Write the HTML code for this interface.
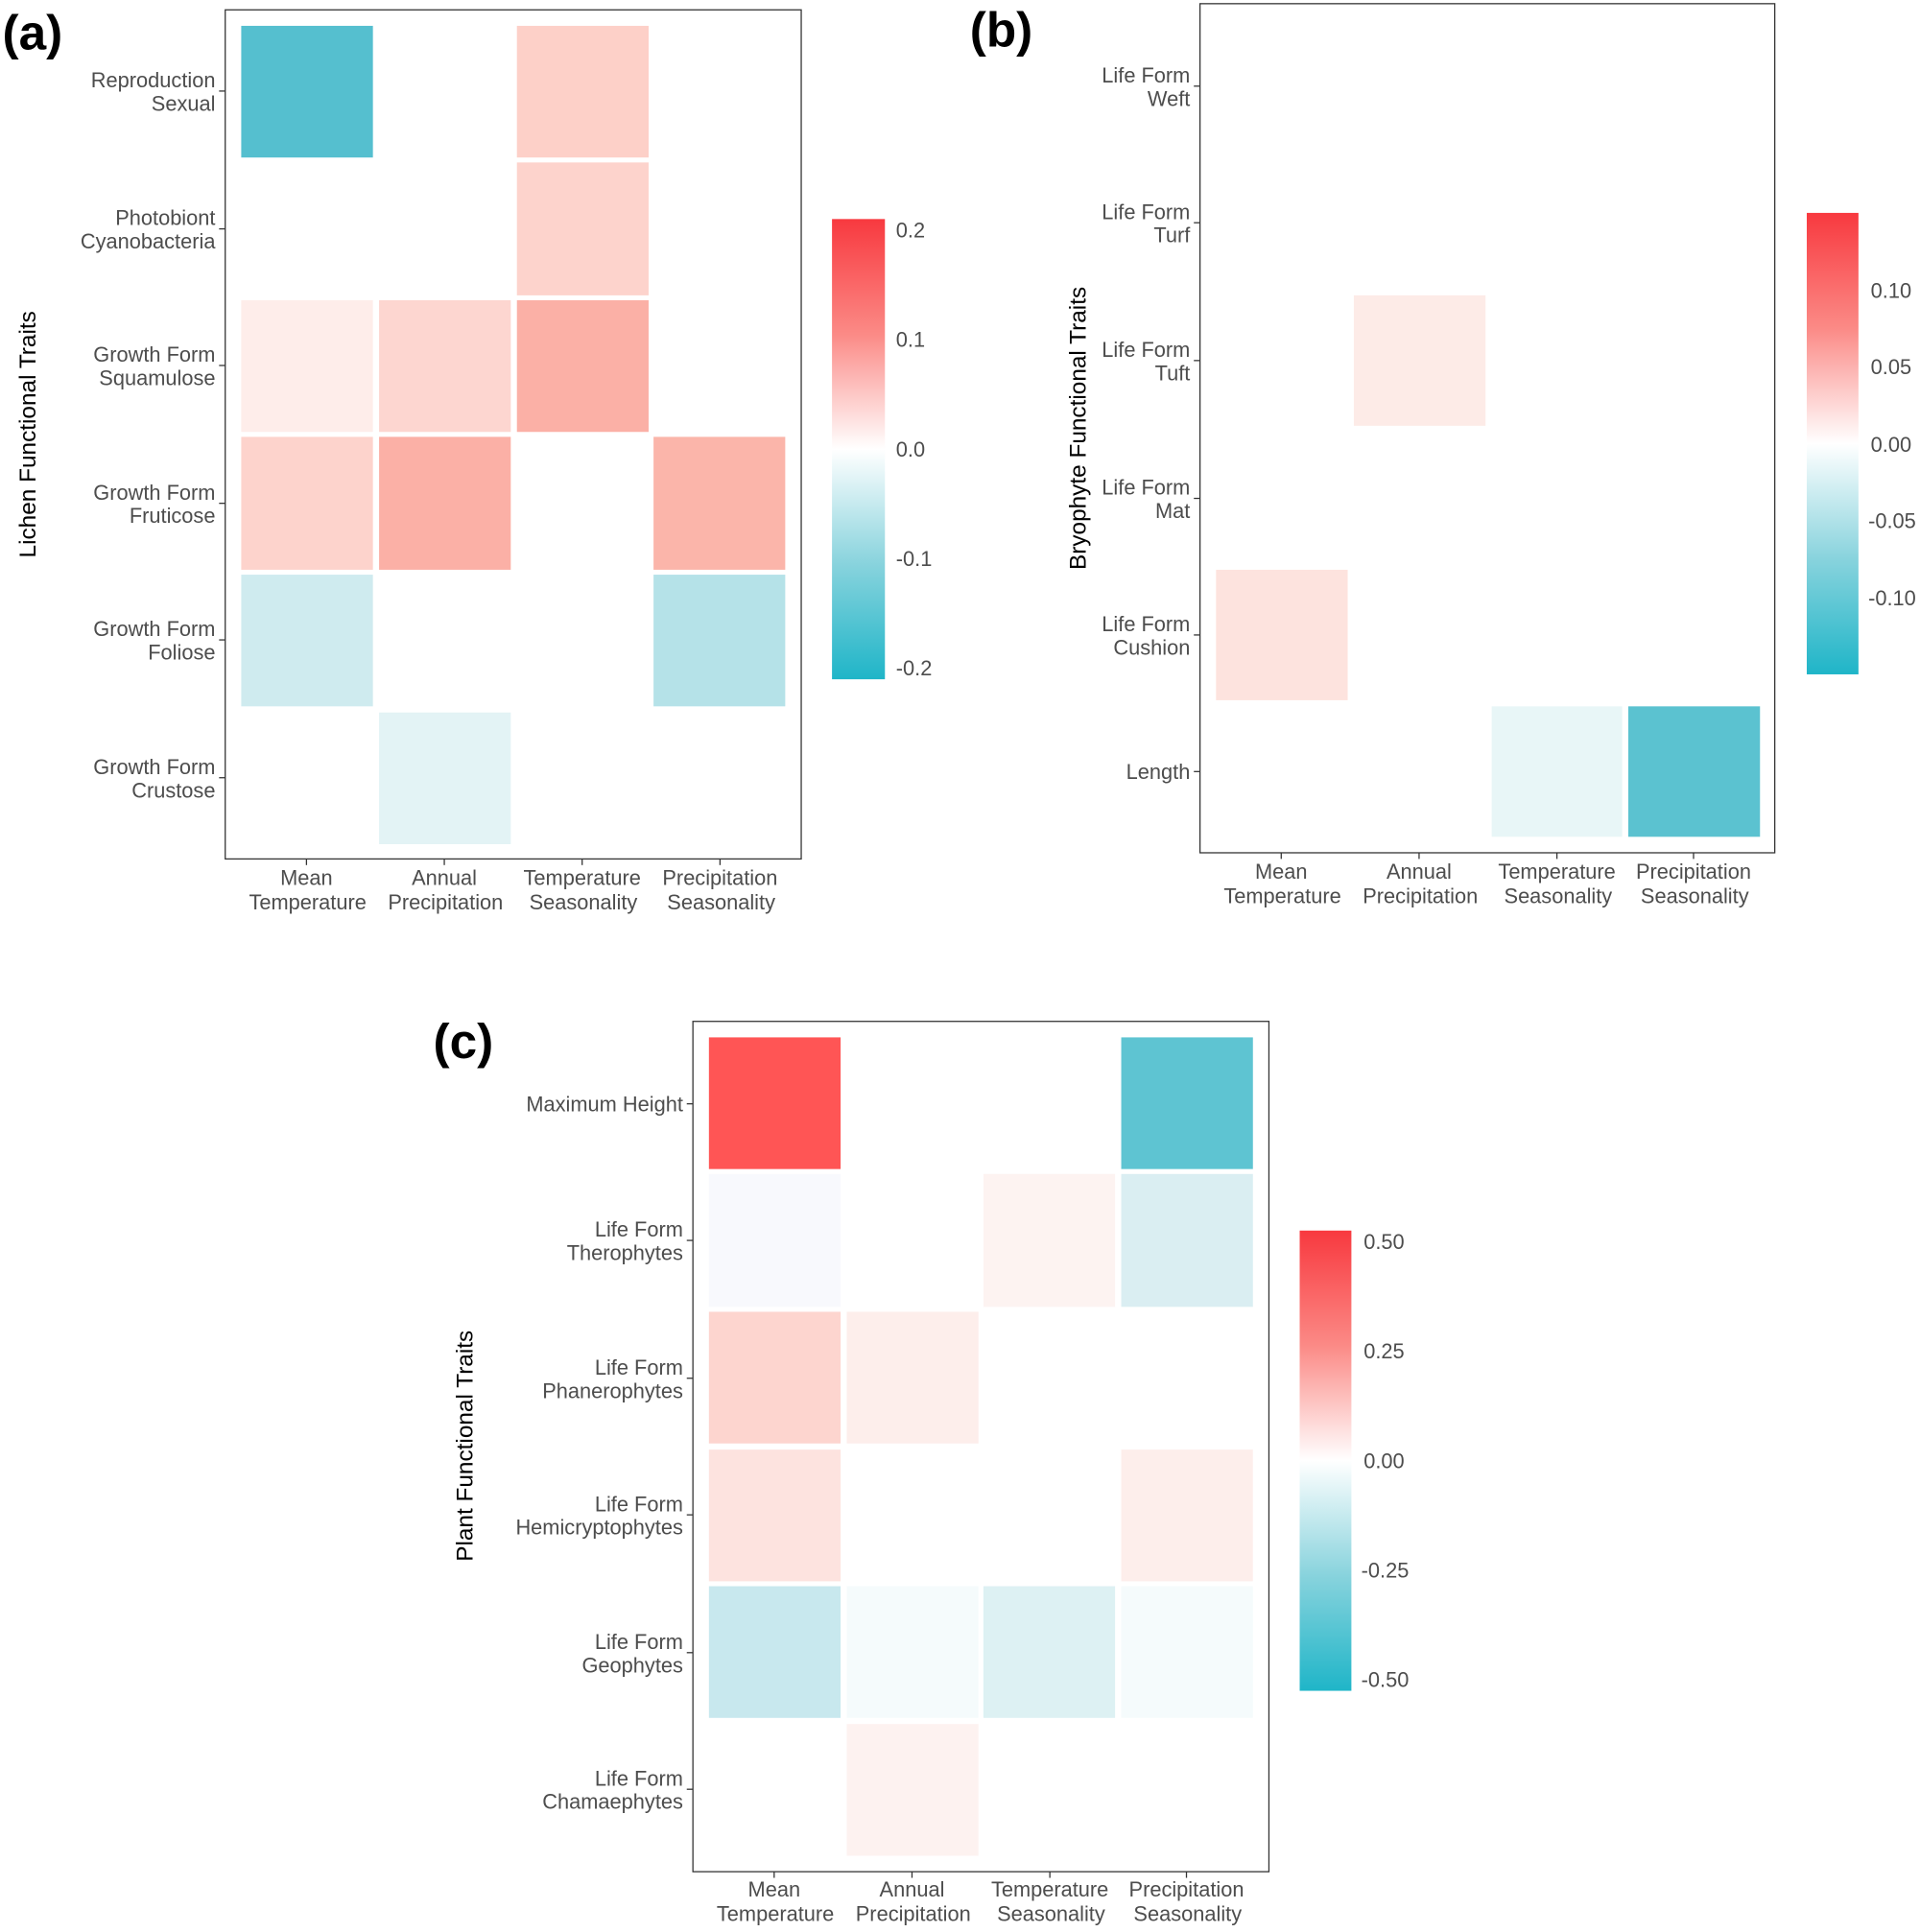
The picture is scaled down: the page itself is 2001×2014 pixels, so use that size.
<!DOCTYPE html>
<html><head><meta charset="utf-8"><style>
html,body{margin:0;padding:0;background:#fff;}
svg{display:block;}
text{font-family:"Liberation Sans",sans-serif;fill:#4d4d4d;font-size:17px;}
.b{font-weight:bold;fill:#000;font-size:40px;}
.r{text-anchor:end;}
.m{text-anchor:middle;}
.t{fill:#000;font-size:19px;}
</style></head><body>
<svg width="2001" height="2014" viewBox="0 0 1560 1570" preserveAspectRatio="none" xmlns="http://www.w3.org/2000/svg">
<defs>
<linearGradient id="g" x1="0" y1="0" x2="0" y2="1">
<stop offset="0" stop-color="#F8393F"/><stop offset="0.25" stop-color="#FB8A86"/>
<stop offset="0.5" stop-color="#FFFFFF"/><stop offset="0.75" stop-color="#88D3DD"/>
<stop offset="1" stop-color="#1FB5C8"/></linearGradient>
</defs>
<rect width="1560" height="1570" fill="#fff"/>

<!-- Panel a -->
<text class="b" x="2" y="40">(a)</text>
<rect x="183" y="8" width="468" height="690" fill="none" stroke="#333" stroke-width="1"/>
<g>
<rect x="196" y="21" width="107" height="107" fill="#55BFCF"/>
<rect x="420" y="21" width="107" height="107" fill="#FDD0C8"/>
<rect x="420" y="132" width="107" height="108" fill="#FDD3CC"/>
<rect x="196" y="244" width="107" height="107" fill="#FEEDEA"/>
<rect x="308" y="244" width="107" height="107" fill="#FDD6D0"/>
<rect x="420" y="244" width="107" height="107" fill="#FBB0A6"/>
<rect x="196" y="355" width="107" height="108" fill="#FDD3CC"/>
<rect x="308" y="355" width="107" height="108" fill="#FBB0A6"/>
<rect x="531" y="355" width="107" height="108" fill="#FBB5AA"/>
<rect x="196" y="467" width="107" height="107" fill="#CFEBEF"/>
<rect x="531" y="467" width="107" height="107" fill="#B5E2E8"/>
<rect x="308" y="579" width="107" height="107" fill="#E3F3F5"/>
</g>
<g stroke="#333">
<line x1="178" x2="183" y1="74" y2="74"/><line x1="178" x2="183" y1="186" y2="186"/><line x1="178" x2="183" y1="297" y2="297"/><line x1="178" x2="183" y1="409" y2="409"/><line x1="178" x2="183" y1="520" y2="520"/><line x1="178" x2="183" y1="632" y2="632"/>
<line x1="249" x2="249" y1="698" y2="703"/><line x1="361" x2="361" y1="698" y2="703"/><line x1="473" x2="473" y1="698" y2="703"/><line x1="585" x2="585" y1="698" y2="703"/>
</g>
<g class="r">
<text class="r" x="175" y="71">Reproduction</text><text class="r" x="175" y="90">Sexual</text>
<text class="r" x="175" y="183">Photobiont</text><text class="r" x="175" y="202">Cyanobacteria</text>
<text class="r" x="175" y="294">Growth Form</text><text class="r" x="175" y="313">Squamulose</text>
<text class="r" x="175" y="406">Growth Form</text><text class="r" x="175" y="425">Fruticose</text>
<text class="r" x="175" y="517">Growth Form</text><text class="r" x="175" y="536">Foliose</text>
<text class="r" x="175" y="629">Growth Form</text><text class="r" x="175" y="648">Crustose</text>
</g>
<text class="m" x="249" y="719">Mean</text><text class="m" x="250" y="739">Temperature</text>
<text class="m" x="361" y="719">Annual</text><text class="m" x="362" y="739">Precipitation</text>
<text class="m" x="473" y="719">Temperature</text><text class="m" x="474" y="739">Seasonality</text>
<text class="m" x="585" y="719">Precipitation</text><text class="m" x="586" y="739">Seasonality</text>
<text class="m t" transform="translate(29,353) rotate(-90)">Lichen Functional Traits</text>
<rect x="676" y="178" width="43" height="374" fill="url(#g)"/>
<text x="728" y="193">0.2</text><text x="728" y="282">0.1</text><text x="728" y="371">0.0</text><text x="728" y="460">-0.1</text><text x="728" y="549">-0.2</text>

<!-- Panel b -->
<text class="b" x="788" y="38">(b)</text>
<rect x="975" y="3" width="467" height="690" fill="none" stroke="#333" stroke-width="1"/>
<rect x="1100" y="240" width="107" height="106" fill="#FDEBE7"/>
<rect x="988" y="463" width="107" height="106" fill="#FDE3DE"/>
<rect x="1212" y="574" width="106" height="106" fill="#E8F6F7"/>
<rect x="1323" y="574" width="107" height="106" fill="#5BC2D0"/>
<g stroke="#333">
<line x1="970" x2="975" y1="70" y2="70"/><line x1="970" x2="975" y1="181" y2="181"/><line x1="970" x2="975" y1="293" y2="293"/><line x1="970" x2="975" y1="405" y2="405"/><line x1="970" x2="975" y1="516" y2="516"/><line x1="970" x2="975" y1="627" y2="627"/>
<line x1="1041" x2="1041" y1="693" y2="698"/><line x1="1153" x2="1153" y1="693" y2="698"/><line x1="1265" x2="1265" y1="693" y2="698"/><line x1="1376" x2="1376" y1="693" y2="698"/>
</g>
<text class="r" x="967" y="67">Life Form</text><text class="r" x="967" y="86">Weft</text>
<text class="r" x="967" y="178">Life Form</text><text class="r" x="967" y="197">Turf</text>
<text class="r" x="967" y="290">Life Form</text><text class="r" x="967" y="309">Tuft</text>
<text class="r" x="967" y="402">Life Form</text><text class="r" x="967" y="421">Mat</text>
<text class="r" x="967" y="513">Life Form</text><text class="r" x="967" y="532">Cushion</text>
<text class="r" x="967" y="633">Length</text>
<text class="m" x="1041" y="714">Mean</text><text class="m" x="1042" y="734">Temperature</text>
<text class="m" x="1153" y="714">Annual</text><text class="m" x="1154" y="734">Precipitation</text>
<text class="m" x="1265" y="714">Temperature</text><text class="m" x="1266" y="734">Seasonality</text>
<text class="m" x="1376" y="714">Precipitation</text><text class="m" x="1377" y="734">Seasonality</text>
<text class="m t" transform="translate(882,348) rotate(-90)">Bryophyte Functional Traits</text>
<rect x="1468" y="173" width="42" height="375" fill="url(#g)"/>
<text x="1520" y="242">0.10</text><text x="1520" y="304">0.05</text><text x="1520" y="367">0.00</text><text x="1518" y="429">-0.05</text><text x="1518" y="492">-0.10</text>

<!-- Panel c -->
<text class="b" x="352" y="860">(c)</text>
<rect x="563" y="830" width="468" height="691" fill="none" stroke="#333" stroke-width="1"/>
<rect x="576" y="843" width="107" height="107" fill="#FF5555"/>
<rect x="911" y="843" width="107" height="107" fill="#5EC4D2"/>
<rect x="576" y="954" width="107" height="108" fill="#F8F9FD"/>
<rect x="799" y="954" width="107" height="108" fill="#FDF3F1"/>
<rect x="911" y="954" width="107" height="108" fill="#DAEEF2"/>
<rect x="576" y="1066" width="107" height="107" fill="#FDD5CF"/>
<rect x="688" y="1066" width="107" height="107" fill="#FDEEEB"/>
<rect x="576" y="1178" width="107" height="107" fill="#FDE3DF"/>
<rect x="911" y="1178" width="107" height="107" fill="#FDEEEB"/>
<rect x="576" y="1289" width="107" height="107" fill="#C8E8EE"/>
<rect x="688" y="1289" width="107" height="107" fill="#F5FBFC"/>
<rect x="799" y="1289" width="107" height="107" fill="#DDF1F3"/>
<rect x="911" y="1289" width="107" height="107" fill="#F5FBFC"/>
<rect x="688" y="1401" width="107" height="107" fill="#FDF2F0"/>
<g stroke="#333">
<line x1="558" x2="563" y1="897" y2="897"/><line x1="558" x2="563" y1="1008" y2="1008"/><line x1="558" x2="563" y1="1120" y2="1120"/><line x1="558" x2="563" y1="1231" y2="1231"/><line x1="558" x2="563" y1="1343" y2="1343"/><line x1="558" x2="563" y1="1454" y2="1454"/>
<line x1="629" x2="629" y1="1521" y2="1526"/><line x1="741" x2="741" y1="1521" y2="1526"/><line x1="853" x2="853" y1="1521" y2="1526"/><line x1="964" x2="964" y1="1521" y2="1526"/>
</g>
<text class="r" x="555" y="903">Maximum Height</text>
<text class="r" x="555" y="1005">Life Form</text><text class="r" x="555" y="1024">Therophytes</text>
<text class="r" x="555" y="1117">Life Form</text><text class="r" x="555" y="1136">Phanerophytes</text>
<text class="r" x="555" y="1228">Life Form</text><text class="r" x="555" y="1247">Hemicryptophytes</text>
<text class="r" x="555" y="1340">Life Form</text><text class="r" x="555" y="1359">Geophytes</text>
<text class="r" x="555" y="1451">Life Form</text><text class="r" x="555" y="1470">Chamaephytes</text>
<text class="m" x="629" y="1541">Mean</text><text class="m" x="630" y="1561">Temperature</text>
<text class="m" x="741" y="1541">Annual</text><text class="m" x="742" y="1561">Precipitation</text>
<text class="m" x="853" y="1541">Temperature</text><text class="m" x="854" y="1561">Seasonality</text>
<text class="m" x="964" y="1541">Precipitation</text><text class="m" x="965" y="1561">Seasonality</text>
<text class="m t" transform="translate(384,1175) rotate(-90)">Plant Functional Traits</text>
<rect x="1056" y="1000" width="42" height="374" fill="url(#g)"/>
<text x="1108" y="1015">0.50</text><text x="1108" y="1104">0.25</text><text x="1108" y="1193">0.00</text><text x="1106" y="1282">-0.25</text><text x="1106" y="1371">-0.50</text>
</svg>
</body></html>
